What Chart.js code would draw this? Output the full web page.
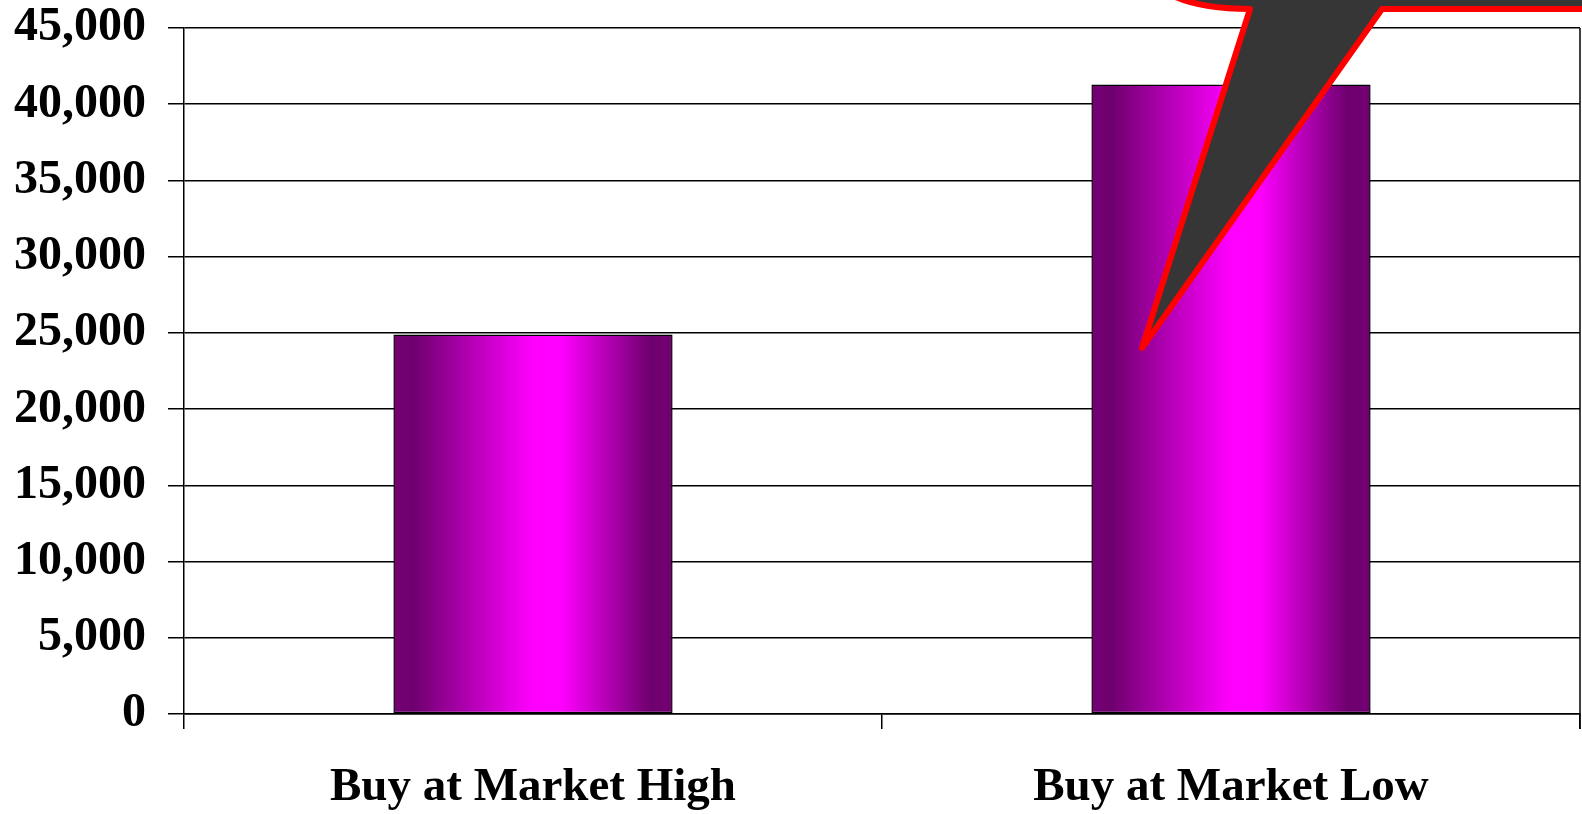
<!DOCTYPE html>
<html>
<head>
<meta charset="utf-8">
<script src="https://cdn.jsdelivr.net/npm/chart.js@4.4.1/dist/chart.umd.min.js"></script>
<style>
  html, body { margin: 0; padding: 0; background: #fff; }
  #wrap { width: 1582px; height: 814px; }
</style>
</head>
<body>
<div id="wrap"><canvas id="buyChart"></canvas></div>
<script>
// chart data
const categories = ['Buy at Market High', 'Buy at Market Low'];
const values = [24900, 41300];
const yTicks = [0, 5000, 10000, 15000, 20000, 25000, 30000, 35000, 40000, 45000];

const FAMILY = "'Liberation Serif', 'Times New Roman', serif";
const BAR_PCT = 0.4;

// purple -> magenta -> purple across each bar
const barGradient = (ctx) => {
    const chart = ctx.chart;
    const xs = chart.scales.x;
    if (!xs || !chart.chartArea) return '#ff00ff';
    const cx = xs.getPixelForValue(ctx.dataIndex);
    const half = (xs.width / categories.length) * BAR_PCT / 2;
    const g = chart.ctx.createLinearGradient(cx - half, 0, cx + half, 0);
    g.addColorStop(0, '#760076');
    g.addColorStop(0.07, '#6e006e');
    g.addColorStop(0.5, '#ff00ff');
    g.addColorStop(0.6, '#ff00ff');
    g.addColorStop(0.92, '#6e006e');
    g.addColorStop(1, '#740074');
    return g;
};

// right border of the plot + the callout shape at top right
const extras = {
    id: 'extras',
    afterDatasetsDraw(chart) {
        const { ctx, chartArea } = chart;
        ctx.save();
        ctx.strokeStyle = '#000';
        ctx.lineWidth = 1.5;
        ctx.beginPath();
        ctx.moveTo(chartArea.right, chartArea.top);
        ctx.lineTo(chartArea.right, chartArea.bottom + 15);
        ctx.stroke();
        ctx.restore();
    },
    afterDraw(chart) {
        const ctx = chart.ctx;
        ctx.save();
        ctx.beginPath();
        ctx.moveTo(1150, -20);
        ctx.quadraticCurveTo(1178, 9, 1250, 9);
        ctx.lineTo(1142, 348);
        ctx.lineTo(1382, 9);
        ctx.lineTo(1620, 9);
        ctx.lineTo(1620, -20);
        ctx.closePath();
        ctx.fillStyle = '#363636';
        ctx.fill();
        ctx.strokeStyle = '#ff0000';
        ctx.lineWidth = 6;
        ctx.lineJoin = 'round';
        ctx.stroke();
        ctx.restore();
    }
};

const chartCtx = document.querySelector('#buyChart').getContext('2d');
const buyChart = new Chart(chartCtx, {
    type: 'bar',
    data: {
        labels: categories,
        datasets: [{
            data: values,
            backgroundColor: barGradient,
            borderColor: '#000',
            borderWidth: 1.5,
            borderSkipped: false,
            barPercentage: BAR_PCT,
            categoryPercentage: 1
        }]
    },
    options: {
        responsive: true,
        maintainAspectRatio: false,
        animation: false,
        layout: { padding: { top: 0, right: 2, left: 0, bottom: 0 } },
        plugins: { legend: { display: false }, tooltip: { enabled: false } },
        scales: {
            x: {
                offset: true,
                grid: { offset: true, drawOnChartArea: false, color: '#000', lineWidth: 1.5, tickLength: 15 },
                border: { display: true, color: '#000', width: 1.5 },
                ticks: { color: '#000', font: { family: FAMILY, size: 47, weight: 'bold' }, padding: 31, maxRotation: 0 },
                afterFit: (scale) => { scale.height = 100; }
            },
            y: {
                min: 0,
                max: 45000,
                afterBuildTicks: (scale) => { scale.ticks = yTicks.map(v => ({ value: v })); },
                grid: { color: '#000', lineWidth: 1.5, tickLength: 16 },
                border: { display: true, color: '#000', width: 1.5 },
                ticks: {
                    color: '#000',
                    font: { family: FAMILY, size: 48, weight: 'bold' },
                    padding: 22,
                    callback: (v) => Number(v).toLocaleString('en-US')
                },
                afterFit: (scale) => {
                    scale.width = 184;
                    scale.paddingTop = 28;
                }
            }
        }
    },
    plugins: [extras]
});
</script>
</body>
</html>
